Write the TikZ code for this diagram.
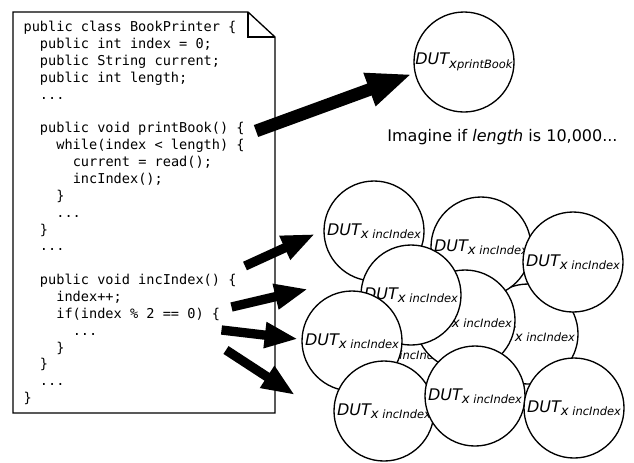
\documentclass[tikz,border=0pt]{standalone}
\usepackage{fontspec}
\setmainfont{DejaVu Sans}
\newfontfamily\codefont{DejaVu Sans Mono}
\usetikzlibrary{arrows.meta}

% DUT label: a slightly lowered x followed by the smaller method name
\newcommand\dutlabel[2]{DUT\raisebox{-2.6pt}{\fontsize{10}{10}\selectfont x\fontsize{8.6}{8.6}\selectfont#1#2}}

\begin{document}
\begin{tikzpicture}[x=0.75pt,y=-0.75pt,
  codeline/.style={anchor=base west, inner sep=0pt,
    font=\codefont\fontsize{10.2}{12}\selectfont},
  dut/.style={circle, draw, line width=1pt, fill=white,
    minimum size=75pt, inner sep=0pt,
    font=\itshape\fontsize{12}{14}\selectfont},
  bigarrow/.style={line width=9.5pt, -{Triangle[length=34pt,width=24pt]}},
  smallarrow/.style={line width=7pt, -{Triangle[length=25pt,width=18pt]}},
  page/.style={draw, line width=1pt, line join=miter}
]
\useasboundingbox (0,0) rectangle (634,462);

% the source file, drawn as a page with a folded corner
\draw[page] (13,12) -- (248,12) -- (275,37) -- (275,413) -- (13,413) -- cycle;
\draw[page] (248,12) -- (248,37) -- (275,37);

% source lines (indent step = one character cell)
\node[codeline] (l1)  at (23.3, 31.7)  {public class BookPrinter \{};
\node[codeline] (l2)  at (39.7, 48.6)  {public int index = 0;};
\node[codeline] (l3)  at (39.7, 65.4)  {public String current;};
\node[codeline] (l4)  at (39.7, 82.3)  {public int length;};
\node[codeline] (l5)  at (39.7, 99.1)  {...};
\node[codeline] (l7)  at (39.7, 132.9) {public void printBook() \{};
\node[codeline] (l8)  at (56.1, 149.7) {while(index < length) \{};
\node[codeline] (l9)  at (72.5, 166.6) {current = read();};
\node[codeline] (l10) at (72.5, 183.4) {incIndex();};
\node[codeline] (l11) at (56.1, 200.3) {\}};
\node[codeline] (l12) at (56.1, 217.2) {...};
\node[codeline] (l13) at (39.7, 234.0) {\}};
\node[codeline] (l14) at (39.7, 250.9) {...};
\node[codeline] (l16) at (39.7, 284.6) {public void incIndex() \{};
\node[codeline] (l17) at (56.1, 301.5) {index++;};
\node[codeline] (l18) at (56.1, 318.3) {if(index \% 2 == 0) \{};
\node[codeline] (l19) at (72.5, 335.2) {...};
\node[codeline] (l20) at (56.1, 352.0) {\}};
\node[codeline] (l21) at (39.7, 368.9) {\}};
\node[codeline] (l22) at (39.7, 385.8) {...};
\node[codeline] (l23) at (23.3, 402.6) {\}};

% the printBook instance
\node[dut] (pb) at (464,62) {\dutlabel{}{printBook}};
\node[anchor=base, inner sep=0pt, font=\fontsize{12}{14}\selectfont]
  (note) at (502.5,141.7) {Imagine if \textit{length} is 10,000...};

% the pile of incIndex instances, back to front
\node[dut] (c8)  at (401,352) {\dutlabel{\ }{incIndex}};
\node[dut] (c6)  at (528,334) {\dutlabel{\ }{incIndex}};
\node[dut] (c2)  at (481,247) {\dutlabel{\ }{incIndex}};
\node[dut] (c5)  at (465,320) {\dutlabel{\ }{incIndex}};
\node[dut] (c1)  at (374,231) {\dutlabel{\ }{incIndex}};
\node[dut] (c3)  at (573,262) {\dutlabel{\ }{incIndex}};
\node[dut] (c4)  at (411,295) {\dutlabel{\ }{incIndex}};
\node[dut] (c7)  at (352,341) {\dutlabel{\ }{incIndex}};
\node[dut] (c9)  at (384,411) {\dutlabel{\ }{incIndex}};
\node[dut] (c10) at (475,396) {\dutlabel{\ }{incIndex}};
\node[dut] (c11) at (574,408) {\dutlabel{\ }{incIndex}};

% arrow ends
\coordinate (t0) at (256,131);  \coordinate (h0) at (412,74);
\coordinate (t1) at (245,266);  \coordinate (h1) at (315,234);
\coordinate (t2) at (231.5,307);\coordinate (h2) at (308,289);
\coordinate (t3) at (221.5,330);\coordinate (h3) at (298,339);
\coordinate (t4) at (226,350);  \coordinate (h4) at (295,395);

\draw[bigarrow] (t0) -- (h0);
\draw[smallarrow] (t1) -- (h1);
\draw[smallarrow] (t2) -- (h2);
\draw[smallarrow] (t3) -- (h3);
\draw[smallarrow] (t4) -- (h4);
\end{tikzpicture}
\end{document}
